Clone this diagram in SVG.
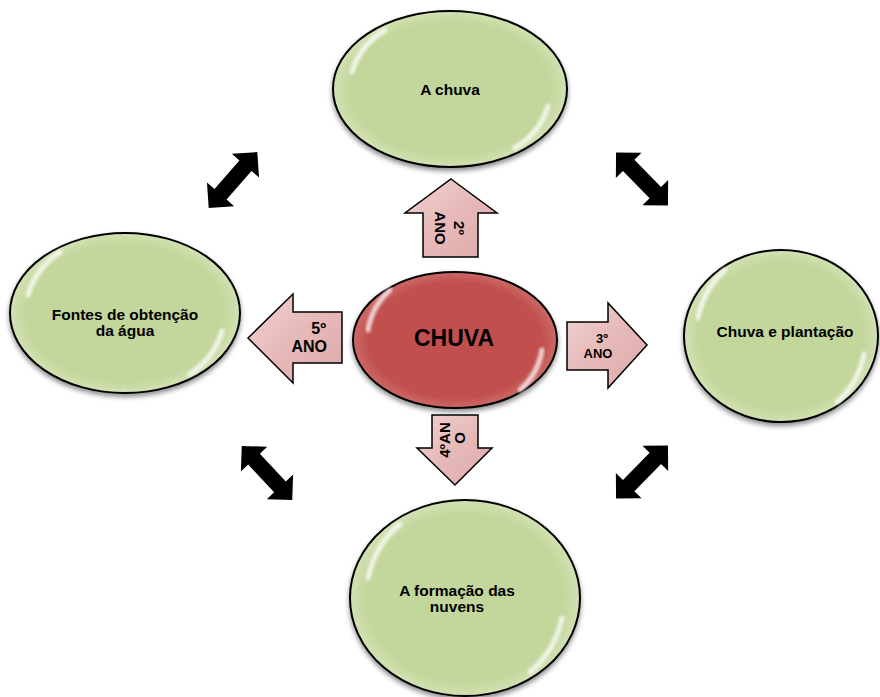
<svg xmlns="http://www.w3.org/2000/svg" width="880" height="697" viewBox="0 0 880 697">
<style>
.lbl{font-family:"Liberation Sans",Arial,sans-serif;font-weight:bold;fill:#000;text-anchor:middle}
.outer{font-size:15.5px}
.arrtxt{font-family:"Liberation Sans",Arial,sans-serif;font-weight:bold;fill:#000}
.green{fill:url(#gGreen);stroke:#000;stroke-width:2;filter:url(#shadow)}
.red{fill:url(#gRed);stroke:#000;stroke-width:2;filter:url(#shadow)}
.pink{fill:url(#gPink);stroke:#000;stroke-width:1.5;stroke-linejoin:miter}
.sheen{fill:none;stroke:#fff;stroke-width:5;stroke-linecap:round;opacity:.75;filter:url(#blur)}
.dbl{fill:#000}
</style>
<defs>
<radialGradient id="gGreen" cx="50%" cy="50%" r="50%">
<stop offset="0" stop-color="#c3d69b"/>
<stop offset="0.85" stop-color="#c3d69b"/>
<stop offset="1" stop-color="#d2e1b3"/>
</radialGradient>
<radialGradient id="gRed" cx="50%" cy="50%" r="50%">
<stop offset="0" stop-color="#c0504d"/>
<stop offset="0.85" stop-color="#c0504d"/>
<stop offset="1" stop-color="#cd6a67"/>
</radialGradient>
<linearGradient id="gPink" x1="0" y1="0" x2="1" y2="1">
<stop offset="0" stop-color="#f0d2d1"/>
<stop offset="0.5" stop-color="#e6b9b8"/>
<stop offset="1" stop-color="#ddaaa9"/>
</linearGradient>
<filter id="shadow" x="-10%" y="-10%" width="120%" height="125%">
<feDropShadow dx="0" dy="3" stdDeviation="2.5" flood-color="#000" flood-opacity="0.45"/>
</filter>
<filter id="blur"><feGaussianBlur stdDeviation="1.5"/></filter>
<path id="dblarrow" d="M-37,0 L-19,-18 L-19,-8 L19,-8 L19,-18 L37,0 L19,18 L19,8 L-19,8 L-19,18 Z"/>
</defs>

<g id="connectors">
<use href="#dblarrow" class="dbl" transform="translate(233,180) rotate(-49)"/>
<use href="#dblarrow" class="dbl" transform="translate(642,179) rotate(45.5)"/>
<use href="#dblarrow" class="dbl" transform="translate(267,473) rotate(47)"/>
<use href="#dblarrow" class="dbl" transform="translate(642,472) rotate(-45.5)"/>
</g>

<g id="node-top">
<ellipse class="green" cx="450" cy="89" rx="117" ry="78"/>
<path class="sheen" d="M352,72 Q360,45 385,30"/>
<path class="sheen" d="M548,106 Q540,133 515,148"/>
<text class="lbl outer" x="450" y="95">A chuva</text>
</g>

<g id="node-left">
<ellipse class="green" cx="125" cy="313" rx="115" ry="80"/>
<path class="sheen" d="M28,295 Q36,268 60,252"/>
<path class="sheen" d="M222,331 Q214,358 190,374"/>
<text class="lbl outer" x="125" y="320">Fontes de obtenção</text>
<text class="lbl outer" x="125" y="336">da água</text>
</g>

<g id="node-right">
<ellipse class="green" cx="781" cy="336" rx="97" ry="86"/>
<path class="sheen" d="M698,318 Q704,288 725,270"/>
<path class="sheen" d="M864,354 Q858,384 837,402"/>
<text class="lbl outer" x="785" y="337">Chuva e plantação</text>
</g>

<g id="node-bottom">
<ellipse class="green" cx="465" cy="598" rx="115" ry="98"/>
<path class="sheen" d="M368,578 Q375,545 400,524"/>
<path class="sheen" d="M562,618 Q555,651 530,672"/>
<text class="lbl outer" x="457" y="596">A formação das</text>
<text class="lbl outer" x="457" y="612">nuvens</text>
</g>

<g id="node-center">
<ellipse class="red" cx="455" cy="340" rx="102" ry="68"/>
<path class="sheen" d="M368,330 Q372,306 390,290"/>
<path class="sheen" d="M542,350 Q538,374 520,390"/>
<text class="lbl" x="454" y="346" style="font-size:23px">CHUVA</text>
</g>

<g id="arrow-2ano">
<path class="pink" d="M451,179 L497,213 L478,213 L478,257 L423,257 L423,213 L405,213 Z"/>
<text class="arrtxt" text-anchor="middle" font-size="15" transform="translate(454,228) rotate(90)">2º</text>
<text class="arrtxt" text-anchor="middle" font-size="15" transform="translate(435,228) rotate(90)">ANO</text>
</g>

<g id="arrow-5ano">
<path class="pink" d="M248,338 L293,294 L293,312 L342,312 L342,363 L293,363 L293,383 Z"/>
<text class="arrtxt" text-anchor="end" font-size="16" x="326" y="334">5º</text>
<text class="arrtxt" text-anchor="end" font-size="16" x="327" y="352">ANO</text>
</g>

<g id="arrow-3ano">
<path class="pink" d="M567,322 L608,322 L608,303 L647,345 L608,388 L608,370 L567,370 Z"/>
<text class="arrtxt" text-anchor="middle" font-size="13" x="602" y="343">3º</text>
<text class="arrtxt" text-anchor="middle" font-size="13" x="598" y="358">ANO</text>
</g>

<g id="arrow-4ano">
<path class="pink" d="M432,415 L478,415 L478,448 L492,448 L455,485 L417,448 L432,448 Z"/>
<text class="arrtxt" text-anchor="middle" font-size="15" transform="translate(450,440) rotate(-90)">4ºAN</text>
<text class="arrtxt" text-anchor="middle" font-size="15" transform="translate(465,438) rotate(-90)">O</text>
</g>
</svg>
